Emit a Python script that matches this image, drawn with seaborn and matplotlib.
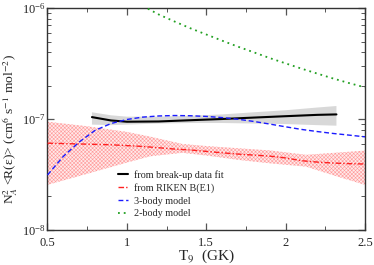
import numpy as np
import pandas as pd
import matplotlib
matplotlib.use("Agg")
import matplotlib.pyplot as plt
import seaborn as sns
from matplotlib.ticker import LogLocator, MultipleLocator, NullFormatter, LogFormatterSciNotation

# ---- data ----
T_fit = [0.78, 0.9, 1.0, 1.2, 1.4, 1.6, 1.8, 2.0, 2.2, 2.32]
fit_mid = [1.04e-7, 9.7e-8, 9.45e-8, 9.5e-8, 9.75e-8, 1.0e-7, 1.03e-7, 1.06e-7, 1.09e-7, 1.10e-7]
fit_hi = [1.15e-7, 1.08e-7, 1.05e-7, 1.05e-7, 1.07e-7, 1.10e-7, 1.15e-7, 1.20e-7, 1.27e-7, 1.31e-7]
fit_lo = [8.9e-8, 8.8e-8, 8.9e-8, 9.1e-8, 9.2e-8, 9.2e-8, 9.1e-8, 9.0e-8, 8.8e-8, 8.7e-8]

T_band = [0.5, 0.75, 1.0, 1.146, 1.35, 1.5, 1.71, 1.9, 2.13, 2.3, 2.5]
riken_hi = [9.45e-8, 8.6e-8, 7.65e-8, 6.93e-8, 5.95e-8, 5.7e-8, 5.43e-8, 5.2e-8, 4.75e-8, 4.94e-8, 5.18e-8]
riken_lo = [2.54e-8, 3.2e-8, 4.04e-8, 4.6e-8, 4.95e-8, 4.68e-8, 4.26e-8, 3.98e-8, 3.71e-8, 3.1e-8, 2.54e-8]

T_grid = [0.5, 0.6, 0.7, 0.8, 0.9, 1.0, 1.1, 1.2, 1.3, 1.4, 1.5, 1.6, 1.7, 1.8, 1.9, 2.0, 2.1, 2.2, 2.3, 2.4, 2.5]
riken_mid = [6.05e-8, 6.0e-8, 5.95e-8, 5.9e-8, 5.85e-8, 5.75e-8, 5.65e-8, 5.5e-8, 5.35e-8, 5.25e-8, 5.1e-8,
             4.95e-8, 4.82e-8, 4.72e-8, 4.62e-8, 4.45e-8, 4.2e-8, 4.08e-8, 4.0e-8, 3.95e-8, 3.92e-8]
three_body = [3.12e-8, 4.6e-8, 6.2e-8, 7.9e-8, 9.1e-8, 9.9e-8, 1.04e-7, 1.065e-7, 1.075e-7, 1.07e-7, 1.055e-7,
              1.03e-7, 9.95e-8, 9.5e-8, 9.0e-8, 8.5e-8, 8.05e-8, 7.7e-8, 7.4e-8, 7.15e-8, 6.9e-8]

T_two = [1.1, 1.2, 1.3, 1.4, 1.5, 1.6, 1.7, 1.8, 1.9, 2.0, 2.1, 2.2, 2.3, 2.4, 2.5]
two_body = [1.05e-6, 8.8e-7, 7.6e-7, 6.6e-7, 5.8e-7, 5.1e-7, 4.5e-7, 4.0e-7, 3.55e-7, 3.18e-7, 2.85e-7,
            2.57e-7, 2.32e-7, 2.11e-7, 1.93e-7]

labels = ["from break-up data fit", "from RIKEN B(E1)", "3-body model", "2-body model"]
x_ticks = [0.5, 1.0, 1.5, 2.0, 2.5]
x_ticklabels = ["0.5", "1", "1.5", "2", "2.5"]

# ---- style ----
sns.set_theme(style="ticks")
plt.rcParams["font.family"] = ["Liberation Serif", "DejaVu Serif"]
plt.rcParams["mathtext.fontset"] = "stix"
plt.rcParams["hatch.linewidth"] = 0.4
plt.rcParams["hatch.color"] = "#ff8888"

fig = plt.figure(figsize=(3.74, 2.65), dpi=100)
ax = fig.add_axes([0.127, 0.1332, 0.849, 0.8355])

# bands
ax.fill_between(T_band, riken_lo, riken_hi, facecolor="#ffeaea", edgecolor="#ff9a9a",
                hatch="xxxxxxxxx", linewidth=0, zorder=1)
ax.fill_between(T_fit, fit_lo, fit_hi, facecolor="#d8d8d8", edgecolor="none", zorder=2)

df_fit = pd.DataFrame({"T": T_fit, "v": fit_mid})
df_grid = pd.DataFrame({"T": T_grid, "riken": riken_mid, "three": three_body})
df_two = pd.DataFrame({"T": T_two, "v": two_body})

sns.lineplot(data=df_fit, x="T", y="v", ax=ax, color="black", lw=1.5, label=labels[0], zorder=4)
sns.lineplot(data=df_grid, x="T", y="riken", ax=ax, color="#ff2020", lw=1.0, label=labels[1], zorder=3)
sns.lineplot(data=df_grid, x="T", y="three", ax=ax, color="#1a1aff", lw=1.0, label=labels[2], zorder=5)
sns.lineplot(data=df_two, x="T", y="v", ax=ax, color="#22a022", lw=1.3, label=labels[3], zorder=5)

lines = ax.get_lines()
lines[1].set_dashes([4, 1.5, 1, 1.5])
lines[2].set_dashes([3.5, 2])
lines[3].set_dashes([1, 2.2])

ax.set_yscale("log")
ax.set_xlim(0.5, 2.5)
ax.set_ylim(1e-8, 1e-6)

ax.xaxis.set_minor_locator(MultipleLocator(0.25))
ax.set_xticks(x_ticks)
ax.set_xticklabels(x_ticklabels)
ax.yaxis.set_major_locator(LogLocator(base=10, numticks=10))
ax.yaxis.set_minor_locator(LogLocator(base=10, subs=np.arange(2, 10), numticks=20))
ax.yaxis.set_minor_formatter(NullFormatter())
ax.yaxis.set_major_formatter(LogFormatterSciNotation())

ax.tick_params(which="both", direction="in", top=True, right=True, color="#555555", labelsize=9)
ax.tick_params(axis="x", pad=5.5)
ax.tick_params(axis="y", pad=1)
ax.tick_params(which="major", length=5, width=0.9)
ax.tick_params(which="minor", length=3, width=0.7)
for s in ax.spines.values():
    s.set_color("#333333")
    s.set_linewidth(1.0)

ax.set_xlabel(r"T$_9$  (GK)", fontsize=11, labelpad=-1)
ax.set_ylabel(r"N$_A^2$ <R(ε)> (cm$^6$ s$^{-1}$ mol$^{-2}$)", fontsize=9.7)
ax.yaxis.set_label_coords(-0.088, 0.455)

leg = ax.legend(loc="lower left", bbox_to_anchor=(0.2, 0.02), frameon=False, fontsize=7.3,
                handlelength=1.0, handletextpad=0.6, labelspacing=0.33, borderpad=0.2)

fig.savefig("out.png", dpi=100)
